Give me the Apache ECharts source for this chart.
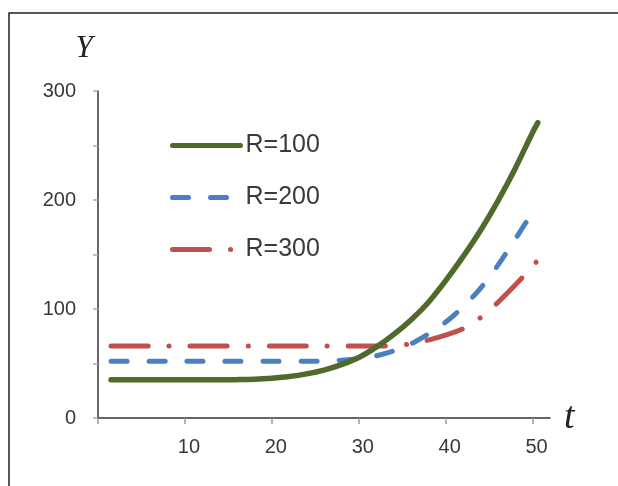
<!DOCTYPE html>
<html>
<head>
<meta charset="utf-8">
<script src="https://cdn.jsdelivr.net/npm/echarts@6/dist/echarts.min.js"></script>
<style>
    html, body { margin: 0; padding: 0; background: #fff; }
    #main { width: 618px; height: 486px; }
</style>
</head>
<body>
<div id="main"></div>
<script>
    // t values (shared by all curves)
    var t_ary = [1.5, 4, 6, 8, 10, 12, 14, 16, 18, 20, 22, 24, 26, 28, 30, 32, 34, 36, 38, 40, 42, 44, 46, 48, 50, 50.6];
    // Y values
    var r100_ary = [35, 35, 35, 35, 35, 35, 35, 35.2, 35.6, 36.5, 38, 40.5, 44, 49, 55.5, 65, 76.5, 90, 106, 126, 148, 172, 199, 229, 262, 271];
    var r200_ary = [52, 52, 52, 52, 52, 52, 52, 52, 52, 52, 52, 52, 52.2, 53, 54.5, 57, 61.5, 68, 77, 88, 102, 119, 140, 164, 188, 191];
    var r300_ary = [66, 66, 66, 66, 66, 66, 66, 66, 66, 66, 66, 66, 66, 66, 66, 66, 66.5, 68, 71.5, 76, 82, 92, 106, 122, 139, 145];
    var series_names = ['R=100', 'R=200', 'R=300'];
    var x_ticks = [0, 10, 20, 30, 40, 50];
    var x_labels = [10, 20, 30, 40, 50];
    var y_ticks = [0, 50, 100, 150, 200, 250, 300];
    var y_labels = [0, 100, 200, 300];

    function pairs(ys) {
        var out = [];
        for (var i = 0; i < t_ary.length; i++) {
            out.push([t_ary[i], ys[i]]);
        }
        return out;
    }

    var my_chart = echarts.init(document.getElementById('main'));
    var label_font = '"Liberation Sans", Arial, sans-serif';
    var name_font = '"Liberation Serif", "DejaVu Serif", serif';

    var option = {
        animation: false,
        backgroundColor: '#ffffff',
        grid: {
            left: 98, right: 68, top: 91, bottom: 68,
            outerBoundsMode: 'none'
        },
        legend: {
            orient: 'vertical',
            left: 165,
            top: 128,
            itemWidth: 68,
            itemHeight: 30,
            itemGap: 27,
            selectedMode: false,
            data: series_names,
            lineStyle: { width: 5 },
            itemStyle: { opacity: 0 },   // no symbol in the legend, line only
            textStyle: {
                fontFamily: label_font,
                fontSize: 25,
                color: '#3a3a3a'
            }
        },
        xAxis: {
            type: 'value',
            min: 0,
            max: 52,
            interval: 10,
            name: 't',
            nameLocation: 'end',
            nameGap: 14,
            nameTextStyle: {
                fontFamily: name_font,
                fontStyle: 'italic',
                fontSize: 38,
                color: '#222',
                padding: [16, 0, 0, 0]
            },
            splitLine: { show: false },
            axisLine: { lineStyle: { color: '#333', width: 1.5 } },
            axisTick: {
                customValues: x_ticks,
                length: 6,
                lineStyle: { color: '#999', width: 1.5 }
            },
            axisLabel: {
                customValues: x_labels,
                margin: 19,
                padding: [0, 0, 0, 8],
                fontFamily: label_font,
                fontSize: 20,
                color: '#383838'
            }
        },
        yAxis: {
            type: 'value',
            min: 0,
            max: 300,
            interval: 50,
            name: 'Y',
            nameLocation: 'end',
            nameGap: 27,
            nameTextStyle: {
                fontFamily: name_font,
                fontStyle: 'italic',
                fontSize: 31,
                color: '#222',
                padding: [0, 28, 0, 0]
            },
            splitLine: { show: false },
            axisLine: { show: true, lineStyle: { color: '#333', width: 1.5 } },
            axisTick: {
                show: true,
                customValues: y_ticks,
                length: 5,
                lineStyle: { color: '#aaa', width: 1.5 }
            },
            axisLabel: {
                customValues: y_labels,
                margin: 22,
                fontFamily: label_font,
                fontSize: 20,
                color: '#383838'
            }
        },
        series: [{
            name: series_names[0],
            type: 'line',
            data: pairs(r100_ary),
            smooth: 0.3,
            symbol: 'none',
            z: 3,
            itemStyle: { color: '#4f6a2b' },
            lineStyle: { color: '#4f6a2b', width: 5.5, cap: 'round' }
        }, {
            name: series_names[1],
            type: 'line',
            data: pairs(r200_ary),
            smooth: 0.3,
            symbol: 'none',
            z: 2,
            itemStyle: { color: '#4a7fc1' },
            lineStyle: { color: '#4a7fc1', width: 5, type: [16, 22], cap: 'round' }
        }, {
            name: series_names[2],
            type: 'line',
            data: pairs(r300_ary),
            smooth: 0.3,
            symbol: 'none',
            z: 2,
            itemStyle: { color: '#c0504d' },
            lineStyle: { color: '#c0504d', width: 5, type: [37, 21, 0.1, 21], cap: 'round' }
        }],
        graphic: [{
            type: 'polyline',
            silent: true,
            shape: { points: [[9, 486], [9, 13], [618, 13]] },
            style: { stroke: '#222', lineWidth: 1.5, fill: null }
        }]
    };

    my_chart.setOption(option);
</script>
</body>
</html>
